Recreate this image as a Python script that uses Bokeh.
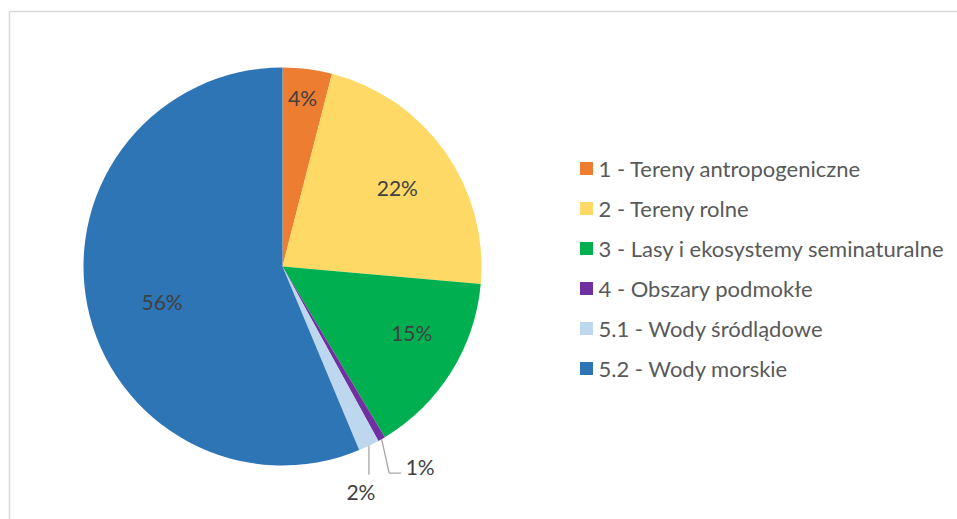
import numpy as np
from bokeh.plotting import figure
from bokeh.models import Range1d
from bokeh.embed import file_html
from bokeh.resources import INLINE
from bokeh.core.properties import value

# ---- data ----
categories = [
    "1 - Tereny antropogeniczne",
    "2 - Tereny rolne",
    "3 - Lasy i ekosystemy seminaturalne",
    "4 - Obszary podmokłe",
    "5.1 - Wody śródlądowe",
    "5.2 - Wody morskie",
]
shares = [4.0, 22.4, 15.0, 0.6, 1.7, 56.3]
pct_labels = ["4%", "22%", "15%", "1%", "2%", "56%"]
colors = ["#ED7D31", "#FFD966", "#00B050", "#7030A0", "#BDD7EE", "#2E75B6"]

# ---- layout ----
W, H = 957, 519
FONT = "Lato"
LBL_SIZE = "21px"
LEG_SIZE = "22px"
p = figure(width=W, height=H, x_range=Range1d(0, W), y_range=Range1d(0, H),
           output_backend="svg", toolbar_location=None, min_border=0)
p.axis.visible = False
p.grid.visible = False
p.outline_line_color = None
p.background_fill_color = "white"
p.border_fill_color = "white"

# chart frame (top and left edges visible)
p.line(x=[9, 9], y=[-10, H - 11], line_color="#D9D9D9", line_width=1.6)
p.line(x=[9, W + 10], y=[H - 11, H - 11], line_color="#D9D9D9", line_width=1.6)

cx, cy, R = 282, H - 266, 199
total = float(sum(shares))
cum = np.cumsum([0.0] + shares) / total
start = np.pi / 2 - 2 * np.pi * cum[:-1]
end = np.pi / 2 - 2 * np.pi * cum[1:]
p.wedge(x=cx, y=cy, radius=R, start_angle=list(start), end_angle=list(end),
        direction="clock", fill_color=colors, line_color=None)

mid = np.pi / 2 - 2 * np.pi * (cum[:-1] + cum[1:]) / 2

# inside labels: (position within slice, radial fraction)
place = {0: (0.47, 0.855), 1: (0.51, 0.70), 2: (0.41, 0.73), 5: (0.476, 0.63)}
lx, ly, lt = [], [], []
for i, (t, f) in place.items():
    a = start[i] + t * (end[i] - start[i])
    lx.append(cx + f * R * np.cos(a))
    ly.append(cy + f * R * np.sin(a))
    lt.append(pct_labels[i])
p.text(x=lx, y=ly, text=lt, text_font=value(FONT), text_font_size=LBL_SIZE,
       text_color="#404040", text_align="center", text_baseline="middle")

# outside labels with leader lines
lead = "#A6A6A6"
# slice 4 (index 3)
ex, ey = cx + R * np.cos(mid[3]), cy + R * np.sin(mid[3])
p.line(x=[ex, ex + 7.5, ex + 19.5], y=[ey, ey - 34, ey - 34], line_color=lead, line_width=1.3)
p.text(x=[ex + 24], y=[ey - 27], text=[pct_labels[3]], text_font=value(FONT), text_font_size=LBL_SIZE,
       text_color="#404040", text_align="left", text_baseline="middle")
# slice 5.1 (index 4)
ex, ey = cx + R * np.cos(mid[4]), cy + R * np.sin(mid[4])
p.line(x=[ex, ex], y=[ey, ey - 29], line_color=lead, line_width=1.3)
p.text(x=[ex - 8], y=[ey - 46], text=[pct_labels[4]], text_font=value(FONT), text_font_size=LBL_SIZE,
       text_color="#404040", text_align="center", text_baseline="middle")

# legend
leg_x, leg_y0, leg_dy = 586, H - 168, 40
ys = [leg_y0 - i * leg_dy for i in range(len(categories))]
p.scatter(x=[leg_x] * len(categories), y=ys, marker="square", size=13,
          fill_color=colors, line_color=None)
p.text(x=[leg_x + 12] * len(categories), y=ys, text=categories, text_font=value(FONT),
       text_font_size=LEG_SIZE, text_color="#595959", text_align="left", text_baseline="middle")

open("out.html", "w").write(file_html(p, INLINE))
